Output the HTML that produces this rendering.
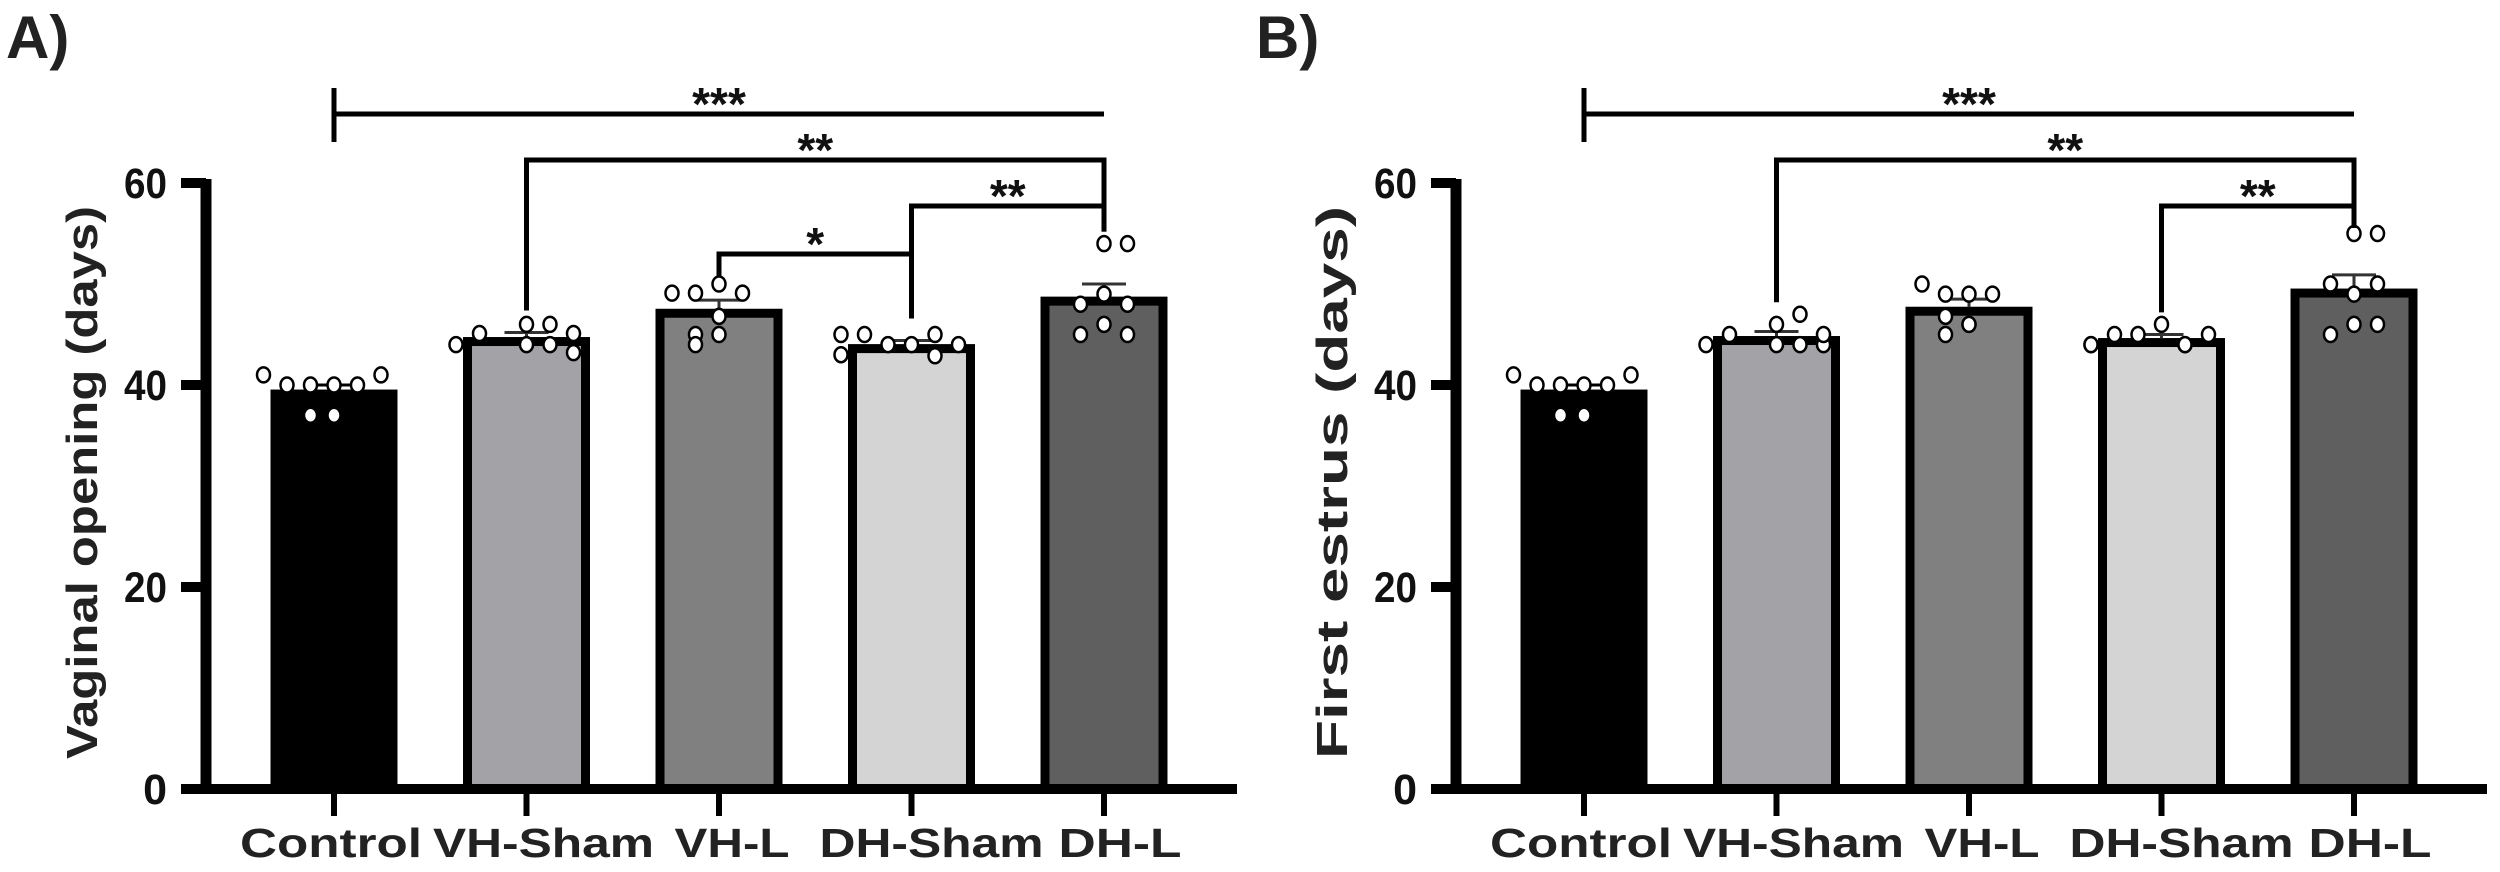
<!DOCTYPE html>
<html><head><meta charset="utf-8"><style>
html,body{margin:0;padding:0;background:#fff;}
svg{display:block;font-family:"Liberation Sans",sans-serif;}
</style></head><body>
<svg id="fig" width="2500" height="872" viewBox="0 0 2500 872" xmlns="http://www.w3.org/2000/svg">
<text x="6" y="58" font-size="60" font-weight="bold" fill="#222">A)</text>
<text x="1256" y="58" font-size="60" font-weight="bold" fill="#222">B)</text>
</svg>
<script>
const categories = ["Control","VH-Sham","VH-L","DH-Sham","DH-L"];
const yTicks = [0,20,40,60];
const meansA = [39.5,44.7,47.5,44.0,48.7];
const semA = [0.5,0.5,0.9,0.4,1.3];
const meansB = [39.5,44.8,47.7,44.6,49.5];
const semB = [0.5,0.5,0.8,0.4,1.4];
const pointsA = [
  [41,40,40,40,40,41,37,37],
  [44,45.1,46,46,45.1,43.2,44,44],
  [49.1,49.1,50,49.1,45,46.8,45,44],
  [45,45,43,44,44,45,44,42.9],
  [54,54,48,49,48,45,46,45]
];
const pointsB = [
  [41,40,40,40,40,41,37,37],
  [44,45,46,47,44,45,44,44],
  [50,49,49,49,46.8,46,46,45],
  [44,45,44,45,46,44,45,44],
  [55,55,50,49,50,45,46,46]
];
const pointOffsetsIdx = [
  [-3,-2,-1,0,1,2,-1,0],
  [-3,-2,0,1,2,2,0,1],
  [-2,-1,0,1,-1,0,0,-1],
  [-3,-2,-3,-1,0,1,2,1],
  [0,1,-1,0,1,-1,0,1]
];
const sigA = [
  {from:0,to:4,label:"***",level:0},
  {from:1,to:4,label:"**",level:1},
  {from:3,to:4,label:"**",level:2},
  {from:2,to:3,label:"*",level:3}
];
const sigB = [
  {from:0,to:4,label:"***",level:0},
  {from:1,to:4,label:"**",level:1},
  {from:3,to:4,label:"**",level:2}
];
const yTitleA = "Vaginal opening (days)";
const yTitleB = "First estrus (days)";
const fills = ["#000000","#a3a3a7","#808080","#d4d4d4","#5f5f5f"];

const NS = "http://www.w3.org/2000/svg";
const svg = document.getElementById("fig");
function mk(tag, attrs, parent){
  const e = document.createElementNS(NS, tag);
  for (const k in attrs) e.setAttribute(k, attrs[k]);
  (parent||svg).appendChild(e);
  return e;
}

function panel(ox, means, sems, pts, sigs, title, key){
  const g = mk("g", {});
  
  
  const y = v => 789 - v * (606/60);
  const x = i => ox + 334 + i * 192.5;
  const tt = mk("text", {x:0, y:0, transform:`translate(${ox+97},${(206+759)/2}) rotate(-90)`, "text-anchor":"middle", "font-size":"44", "font-weight":"bold", fill:"#222", textLength:553, lengthAdjust:"spacingAndGlyphs"}, g);
  tt.textContent = title;
  
  
  const ya = mk("line", {x1:ox+206, y1:179, x2:ox+206, y2:794, stroke:"#000", "stroke-width":11}, g);
  
  
  yTicks.forEach(t => {
    const tl = mk("line", {x1:ox+181, y1:y(t), x2:ox+206, y2:y(t), stroke:"#000", "stroke-width":10}, g);
    
    
    const lab = mk("text", {x:ox+167, y:y(t)+15, "text-anchor":"end", "font-size":"43", "font-weight":"bold", fill:"#111"}, g);
    lab.textContent = t;
    if (String(t).length === 2) lab.setAttribute("textLength", 43);
    lab.setAttribute("lengthAdjust", "spacingAndGlyphs");
    
    
  });
  means.forEach((m, i) => {
    const r = mk("rect", {x:x(i)-59, y:y(m)+4, width:118, height:789-y(m)-4, fill:fills[i], stroke:"#000", "stroke-width":9}, g);
    
    
    const eb = mk("path", {d:`M${x(i)} ${y(m)} V${y(m+sems[i])} M${x(i)-22} ${y(m+sems[i])} H${x(i)+22}`, stroke: i===0?"#000":"#333", "stroke-width":3, fill:"none"}, g);
    
    
  });
  pts.forEach((arr, i) => {
    arr.forEach((v, j) => {
      const c = mk("ellipse", {cx:x(i)+pointOffsetsIdx[i][j]*23.5, cy:y(v), rx:6.5, ry:7.5, fill:"#fff", stroke:"#000", "stroke-width":2.5}, g);
      
      
    });
  });
  const xa = mk("line", {x1:ox+182, y1:789, x2:ox+1237, y2:789, stroke:"#000", "stroke-width":10}, g);
  
  
  const labW = [182,221,115,224,123];
  const labOff = [-3,17,13,20,16];
  categories.forEach((c, i) => {
    const tk = mk("line", {x1:x(i), y1:789, x2:x(i), y2:816, stroke:"#000", "stroke-width":6}, g);
    
    
    const t = mk("text", {x:x(i)+labOff[i], y:857, "text-anchor":"middle", "font-size":"41", "font-weight":"bold", fill:"#222", textLength:labW[i], lengthAdjust:"spacingAndGlyphs"}, g);
    t.textContent = c;
    
    
  });
  const levelY = [114, 160, 206, 254];
  sigs.forEach(s => {
    const ly = levelY[s.level];
    const x1 = x(s.from), x2 = x(s.to);
    let d;
    if (s.level === 0) {
      d = `M${x1} 88 V142 M${x1} ${ly} H${x2}`;
    } else {
      const top1 = Math.max(...pts[s.from]), top2 = Math.max(...pts[s.to]);
      const b1 = Math.min(y(means[s.from] + sems[s.from]) - 22, y(top1) - 12);
      const b2 = Math.min(y(means[s.to] + sems[s.to]) - 22, y(top2) - 12);
      d = `M${x1} ${Math.max(b1, ly+22)} V${ly} H${x2} V${Math.max(b2, ly+22)}`;
    }
    const p = mk("path", {d, stroke:"#000", "stroke-width":5, fill:"none"}, g);
    
    
    const st = mk("text", {x:(x1+x2)/2, y:ly+6, "text-anchor":"middle", "font-size":"46", "font-weight":"bold", fill:"#111"}, g);
    st.textContent = s.label;
    
    
  });
}
panel(0, meansA, semA, pointsA, sigA, yTitleA, "a");
panel(1250, meansB, semB, pointsB, sigB, yTitleB, "b");
</script>
</body></html>
